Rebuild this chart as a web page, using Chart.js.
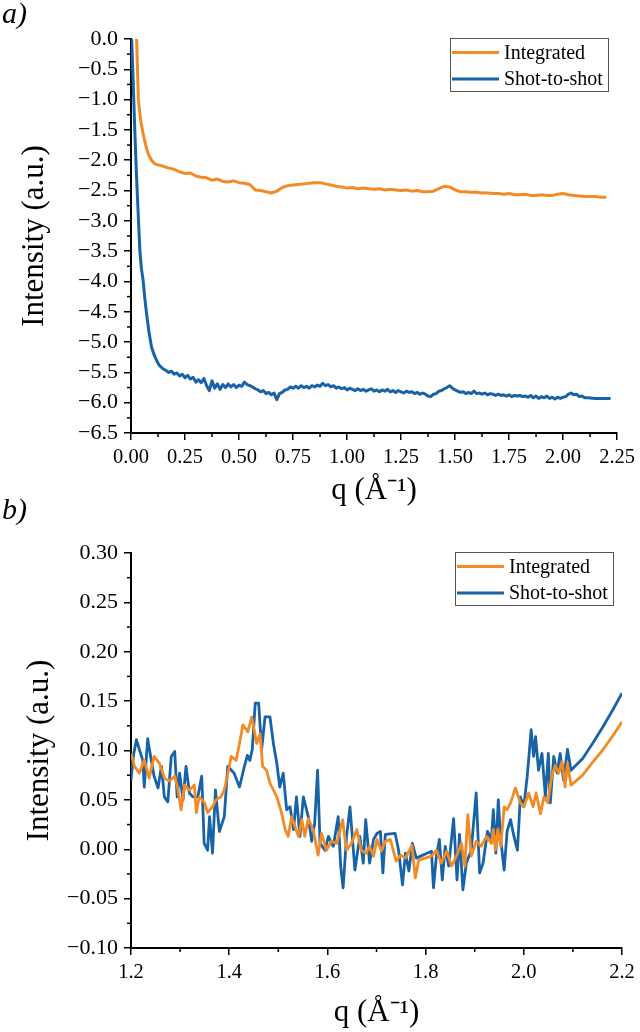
<!DOCTYPE html>
<html>
<head>
<meta charset="utf-8">
<script src="https://cdn.jsdelivr.net/npm/chart.js@4.4.1/dist/chart.umd.min.js"></script>
<style>
  body { margin: 0; background: #fff; width: 640px; height: 1032px; position: relative; overflow: hidden; }
  canvas { position: absolute; left: 0; }
  .tag { position: absolute; left: 2px; font: italic 30px 'Liberation Serif', 'Times New Roman', serif; line-height: 1; }
</style>
</head>
<body>
<canvas id="chartA" width="640" height="520" style="top:0"></canvas>
<canvas id="chartB" width="640" height="512" style="top:520px"></canvas>
<div class="tag" style="top:-2px">a)</div>
<div class="tag" style="top:494px">b)</div>
<script>
// ---- panel a) full q range ----
const qIntA = [
  0.026, 0.03, 0.034, 0.045, 0.056, 0.068, 0.079, 0.095, 0.11, 0.13,
  0.15, 0.175, 0.2, 0.225, 0.25, 0.275, 0.3, 0.325, 0.35, 0.375,
  0.4, 0.425, 0.45, 0.475, 0.5, 0.525, 0.55, 0.575, 0.6, 0.625,
  0.65, 0.675, 0.7, 0.725, 0.75, 0.775, 0.8, 0.825, 0.85, 0.875,
  0.9, 0.925, 0.95, 0.975, 1.0, 1.025, 1.05, 1.075, 1.1, 1.125,
  1.15, 1.175, 1.2, 1.225, 1.25, 1.275, 1.3, 1.325, 1.35, 1.375,
  1.4, 1.425, 1.45, 1.475, 1.5, 1.525, 1.55, 1.575, 1.6, 1.625,
  1.65, 1.675, 1.7, 1.725, 1.75, 1.775, 1.8, 1.825, 1.85, 1.875,
  1.9, 1.925, 1.95, 1.975, 2.0, 2.025, 2.05, 2.075, 2.1, 2.125,
  2.15, 2.175, 2.2
];
const intA = [
  0, -0.5, -1.0, -1.35, -1.56, -1.75, -1.89, -2.0, -2.06, -2.08,
  -2.10, -2.13, -2.15, -2.19, -2.22, -2.21, -2.26, -2.28, -2.29, -2.33,
  -2.31, -2.35, -2.36, -2.34, -2.37, -2.38, -2.40, -2.49, -2.50, -2.52,
  -2.54, -2.51, -2.45, -2.42, -2.41, -2.40, -2.39, -2.38, -2.37, -2.37,
  -2.39, -2.41, -2.43, -2.44, -2.46, -2.45, -2.47, -2.46, -2.47, -2.48,
  -2.47, -2.49, -2.48, -2.49, -2.50, -2.49, -2.51, -2.50, -2.52, -2.52,
  -2.51, -2.47, -2.43, -2.44, -2.49, -2.52, -2.52, -2.53, -2.53, -2.54,
  -2.54, -2.55, -2.55, -2.56, -2.55, -2.57, -2.57, -2.56, -2.58, -2.58,
  -2.57, -2.58, -2.58, -2.56, -2.55, -2.57, -2.58, -2.59, -2.60, -2.60,
  -2.60, -2.61, -2.61
];
const qShotA = [
  0.003, 0.01, 0.018, 0.026, 0.034, 0.041, 0.048, 0.056, 0.064, 0.072,
  0.083, 0.095, 0.106, 0.118, 0.13, 0.148,
  0.1625, 0.175, 0.1875, 0.2, 0.2125, 0.225, 0.2375, 0.25, 0.2625, 0.275,
  0.2875, 0.3, 0.3125, 0.325, 0.3375, 0.35, 0.3625, 0.375, 0.3875, 0.4,
  0.4125, 0.425, 0.4375, 0.45, 0.4625, 0.475, 0.4875, 0.5, 0.5125, 0.525,
  0.5375, 0.55, 0.5625, 0.575, 0.5875, 0.6, 0.6125, 0.625, 0.6375, 0.65,
  0.6625, 0.675, 0.6875, 0.7, 0.7125, 0.725, 0.7375, 0.75, 0.7625, 0.775,
  0.7875, 0.8, 0.8125, 0.825, 0.8375, 0.85, 0.8625, 0.875, 0.8875, 0.9,
  0.9125, 0.925, 0.9375, 0.95, 0.9625, 0.975, 0.9875, 1.0, 1.0125, 1.025,
  1.0375, 1.05, 1.0625, 1.075, 1.0875, 1.1, 1.1125, 1.125, 1.1375, 1.15,
  1.1625, 1.175, 1.1875, 1.2, 1.2125, 1.225, 1.2375, 1.25, 1.2625, 1.275,
  1.2875, 1.3, 1.3125, 1.325, 1.3375, 1.35, 1.3625, 1.375, 1.3875, 1.4,
  1.4125, 1.425, 1.4375, 1.45, 1.4625, 1.475, 1.4875, 1.5, 1.5125, 1.525,
  1.5375, 1.55, 1.5625, 1.575, 1.5875, 1.6, 1.6125, 1.625, 1.6375, 1.65,
  1.6625, 1.675, 1.6875, 1.7, 1.7125, 1.725, 1.7375, 1.75, 1.7625, 1.775,
  1.7875, 1.8, 1.8125, 1.825, 1.8375, 1.85, 1.8625, 1.875, 1.8875, 1.9,
  1.9125, 1.925, 1.9375, 1.95, 1.9625, 1.975, 1.9875, 2.0, 2.0125, 2.025,
  2.0375, 2.05, 2.0625, 2.075, 2.0875, 2.1, 2.1125, 2.15, 2.22
];
const shotA = [
  0, -0.7, -1.56, -2.3, -2.94, -3.49, -3.78, -3.98, -4.28, -4.53,
  -4.83, -5.08, -5.2, -5.30, -5.38, -5.44,
  -5.47, -5.50, -5.48, -5.53, -5.51, -5.56, -5.53, -5.59, -5.55, -5.61,
  -5.58, -5.66, -5.62, -5.67, -5.60, -5.72, -5.80, -5.64, -5.76, -5.69,
  -5.78, -5.70, -5.75, -5.69, -5.74, -5.70, -5.75, -5.71, -5.73, -5.66,
  -5.70, -5.72, -5.74, -5.77, -5.79, -5.82, -5.80, -5.85, -5.83, -5.87,
  -5.84, -5.95, -5.85, -5.83, -5.79, -5.78, -5.74, -5.76, -5.73, -5.76,
  -5.72, -5.75, -5.73, -5.76, -5.72, -5.74, -5.71, -5.73, -5.68, -5.72,
  -5.70, -5.74, -5.72, -5.76, -5.74, -5.77, -5.75, -5.79, -5.76, -5.78,
  -5.80, -5.77, -5.80, -5.78, -5.81, -5.79, -5.77, -5.81, -5.79, -5.82,
  -5.79, -5.81, -5.78, -5.82, -5.80, -5.83, -5.80, -5.82, -5.84, -5.81,
  -5.83, -5.82, -5.85, -5.83, -5.86, -5.84, -5.86, -5.89, -5.90, -5.86,
  -5.85, -5.81, -5.80, -5.77, -5.75, -5.72, -5.76, -5.79, -5.81, -5.83,
  -5.82, -5.85, -5.83, -5.85, -5.81, -5.85, -5.84, -5.86, -5.84, -5.87,
  -5.85, -5.86, -5.88, -5.86, -5.88, -5.87, -5.89, -5.87, -5.90, -5.88,
  -5.89, -5.88, -5.90, -5.89, -5.91, -5.88, -5.92, -5.89, -5.93, -5.90,
  -5.92, -5.89, -5.93, -5.91, -5.94, -5.91, -5.93, -5.91, -5.90, -5.86,
  -5.84, -5.87, -5.86, -5.90, -5.89, -5.92, -5.92, -5.93, -5.93
];

// ---- panel b) zoom 1.2 - 2.2 ----
const qIntB = [
  1.2, 1.207, 1.217, 1.227, 1.237, 1.247, 1.258, 1.268, 1.278, 1.289,
  1.295, 1.302, 1.309, 1.319, 1.329, 1.333, 1.339, 1.35, 1.356, 1.366,
  1.373, 1.383, 1.39, 1.397, 1.404, 1.414, 1.421, 1.428, 1.438, 1.446,
  1.456, 1.463, 1.468, 1.476, 1.483, 1.49, 1.497, 1.507, 1.514, 1.52,
  1.527, 1.534, 1.541, 1.548, 1.554, 1.561, 1.571, 1.581, 1.588, 1.598,
  1.608, 1.619, 1.631, 1.639, 1.649, 1.66, 1.669, 1.679, 1.686, 1.694,
  1.701, 1.71, 1.718, 1.728, 1.74, 1.749, 1.759, 1.772, 1.779, 1.786,
  1.812, 1.822, 1.832, 1.843, 1.853, 1.863, 1.873, 1.88, 1.886, 1.893,
  1.903, 1.913, 1.924, 1.934, 1.938, 1.942, 1.947, 1.953, 1.96, 1.966,
  1.973, 1.983, 1.993, 2.0, 2.01, 2.019, 2.025, 2.034, 2.041, 2.049,
  2.057, 2.064, 2.071, 2.078, 2.084, 2.089, 2.096, 2.12, 2.14, 2.16,
  2.18, 2.2
];
const intB = [
  0.097, 0.084, 0.077, 0.090, 0.072, 0.094, 0.087, 0.072, 0.069, 0.074,
  0.062, 0.040, 0.065, 0.060, 0.065, 0.037, 0.053, 0.047, 0.037, 0.043,
  0.050, 0.053, 0.060, 0.076, 0.094, 0.090, 0.107, 0.126, 0.119, 0.134,
  0.107, 0.117, 0.084, 0.080, 0.067, 0.060, 0.053, 0.036, 0.020, 0.013,
  0.033, 0.023, 0.013, 0.030, 0.013, 0.031, 0.020, -0.006, 0.016, -0.001,
  0.008, 0.006, 0.030, -0.001, 0.006, 0.020, -0.001, -0.004, 0.003, -0.007,
  0.010, -0.002, 0.008, 0.010, -0.012, -0.006, -0.009, 0.004, -0.029, -0.011,
  -0.007, -0.001, -0.014, -0.002, -0.017, -0.007, 0.006, -0.017, 0.035, -0.007,
  0.008, 0.003, 0.013, 0.006, 0.020, -0.001, 0.020, 0.003, 0.043, 0.040,
  0.047, 0.062, 0.047, 0.043, 0.057, 0.043, 0.057, 0.036, 0.053, 0.047,
  0.074, 0.085, 0.077, 0.089, 0.063, 0.087, 0.065, 0.075, 0.088, 0.100,
  0.114, 0.129
];
const qShotB = [
  1.2, 1.205, 1.211, 1.217, 1.224, 1.227, 1.234, 1.24, 1.247, 1.255,
  1.262, 1.268, 1.275, 1.282, 1.289, 1.294, 1.299, 1.306, 1.312, 1.319,
  1.326, 1.336, 1.344, 1.349, 1.356, 1.36, 1.366, 1.372, 1.38, 1.39,
  1.397, 1.41, 1.421, 1.431, 1.437, 1.442, 1.447, 1.453, 1.46, 1.466,
  1.473, 1.483, 1.49, 1.497, 1.503, 1.51, 1.517, 1.524, 1.531, 1.537,
  1.544, 1.551, 1.561, 1.568, 1.574, 1.58, 1.585, 1.595, 1.602, 1.612,
  1.622, 1.627, 1.632, 1.639, 1.646, 1.656, 1.666, 1.673, 1.678, 1.686,
  1.694, 1.701, 1.708, 1.713, 1.718, 1.738, 1.745, 1.753, 1.759, 1.766,
  1.773, 1.781, 1.812, 1.816, 1.822, 1.828, 1.834, 1.84, 1.847, 1.857,
  1.864, 1.869, 1.876, 1.883, 1.893, 1.903, 1.91, 1.917, 1.926, 1.934,
  1.938, 1.943, 1.948, 1.953, 1.96, 1.966, 1.973, 1.98, 1.987, 1.993,
  2.0, 2.007, 2.015, 2.02, 2.024, 2.03, 2.037, 2.044, 2.05, 2.054,
  2.061, 2.068, 2.074, 2.081, 2.089, 2.096, 2.12, 2.14, 2.16, 2.18,
  2.2
];
const shotB = [
  0.070, 0.095, 0.111, 0.101, 0.090, 0.063, 0.112, 0.094, 0.074, 0.062,
  0.084, 0.053, 0.048, 0.094, 0.099, 0.053, 0.077, 0.050, 0.084, 0.057,
  0.053, 0.053, 0.074, 0.006, -0.001, 0.033, -0.004, 0.060, 0.018, 0.033,
  0.084, 0.077, 0.063, 0.084, 0.095, 0.090, 0.101, 0.148, 0.148, 0.101,
  0.134, 0.134, 0.107, 0.087, 0.063, 0.077, 0.040, 0.043, 0.020, 0.053,
  0.013, 0.053, 0.033, 0.008, 0.026, 0.080, 0.006, -0.001, 0.013, 0.003,
  0.033, -0.017, -0.039, 0.013, 0.043, -0.021, 0.013, -0.014, 0.030, -0.014,
  0.010, 0.016, 0.018, -0.024, 0.015, 0.016, -0.001, -0.036, -0.004, -0.022,
  0.006, -0.009, -0.002, -0.039, -0.007, 0.010, -0.031, 0.003, -0.017, 0.031,
  -0.031, 0.015, -0.041, -0.014, -0.001, 0.057, -0.024, -0.014, 0.018, 0.010,
  0.040, -0.004, 0.050, 0.010, -0.021, 0.018, 0.030, 0.013, -0.001, 0.053,
  0.043, 0.074, 0.121, 0.094, 0.114, 0.080, 0.097, 0.053, 0.097, 0.047,
  0.094, 0.077, 0.097, 0.070, 0.101, 0.080, 0.092, 0.107, 0.123, 0.140,
  0.158
];

const seriesNames = ['Integrated', 'Shot-to-shot'];
const seriesColors = ['#f28b26', '#1862a6'];
const SERIF = "'Liberation Serif', 'Times New Roman', serif";

function fmt(v, d) {
  if (Math.abs(v) < 1e-9) v = 0;
  return v.toFixed(d).replace('-', '\u2212');
}

function pts(xs, ys) {
  return xs.map((x, i) => ({ x: x, y: ys[i] }));
}

// small ticks between the labelled ones
const minorTicks = {
  id: 'minorTicks',
  afterDraw(chart, args, opts) {
    const ctx = chart.ctx;
    const { left, bottom } = chart.chartArea;
    ctx.save();
    ctx.strokeStyle = '#000';
    ctx.lineWidth = 1.5;
    ['x', 'y'].forEach(id => {
      const s = chart.scales[id];
      const step = opts[id];
      const n = Math.round((s.max - s.min) / step);
      for (let k = 1; k < n; k += 2) {
        const p = s.getPixelForValue(s.min + k * step);
        ctx.beginPath();
        if (id === 'x') { ctx.moveTo(p, bottom); ctx.lineTo(p, bottom + 4); }
        else { ctx.moveTo(left, p); ctx.lineTo(left - 4, p); }
        ctx.stroke();
      }
    });
    ctx.restore();
  }
};

// framed legend in the top right corner of the plot
const boxLegend = {
  id: 'boxLegend',
  afterDraw(chart) {
    const ctx = chart.ctx;
    const a = chart.chartArea;
    const w = 158, h = 53;
    const x0 = Math.round(a.right - 9 - w), y0 = Math.round(a.top - 1);
    ctx.save();
    ctx.fillStyle = '#fff';
    ctx.fillRect(x0, y0, w, h);
    ctx.strokeStyle = '#555';
    ctx.lineWidth = 1;
    ctx.strokeRect(x0 + 0.5, y0 + 0.5, w, h);
    ctx.font = '20px ' + SERIF;
    ctx.textBaseline = 'middle';
    chart.data.datasets.forEach((ds, i) => {
      const y = y0 + 14.5 + i * 26.5;
      ctx.strokeStyle = ds.borderColor;
      ctx.lineWidth = 3;
      ctx.beginPath();
      ctx.moveTo(x0 + 2, y);
      ctx.lineTo(x0 + 49, y);
      ctx.stroke();
      ctx.fillStyle = '#000';
      ctx.fillText(ds.label, x0 + 54, y + 1);
    });
    ctx.restore();
  }
};

function makeChart(id, sets, o) {
  return new Chart(document.getElementById(id), {
    type: 'line',
    data: {
      datasets: sets.map((d, i) => ({
        label: seriesNames[i],
        data: d,
        borderColor: seriesColors[i],
        backgroundColor: seriesColors[i],
        borderWidth: o.lineW,
        borderJoinStyle: 'round',
        pointRadius: 0,
        tension: 0,
        fill: false
      }))
    },
    options: {
      responsive: false,
      animation: false,
      devicePixelRatio: 1,
      layout: { padding: { top: o.padTop, right: 18, left: 0, bottom: 0 } },
      plugins: {
        legend: { display: false },
        tooltip: { enabled: false },
        minorTicks: { x: o.xStep / 2, y: o.yStep / 2 }
      },
      scales: {
        x: {
          type: 'linear',
          min: o.xMin, max: o.xMax,
          ticks: { stepSize: o.xStep, callback: v => fmt(v, o.xDec), color: '#000', font: { family: SERIF, size: 20.5 }, padding: 5, maxRotation: 0, autoSkip: false },
          grid: { drawOnChartArea: false, tickLength: 7, color: '#000', lineWidth: 1.5 },
          border: { color: '#000', width: 2 },
          title: { display: true, text: 'q (\u00c5\u207b\u00b9)', color: '#000', font: { family: SERIF, size: 31, lineHeight: 1 }, padding: { top: 0, bottom: o.xTitlePad } },
          afterFit: s => { s.height = o.xHeight; }
        },
        y: {
          min: o.yMin, max: o.yMax,
          ticks: { stepSize: o.yStep, callback: v => fmt(v, o.yDec), color: '#000', font: { family: SERIF, size: 22 }, padding: 6, autoSkip: false },
          grid: { drawOnChartArea: false, tickLength: 7, color: '#000', lineWidth: 1.5 },
          border: { color: '#000', width: 2 },
          title: { display: true, text: 'Intensity (a.u.)', color: '#000', font: { family: SERIF, size: 31, lineHeight: 1 }, padding: { top: o.yTitlePad, bottom: 0 } },
          afterFit: s => { s.width = 131; }
        }
      }
    },
    plugins: [minorTicks, boxLegend]
  });
}

makeChart('chartA', [pts(qIntA, intA), pts(qShotA, shotA)], {
  padTop: 39, xHeight: 87, xTitlePad: 13.5, yTitlePad: 19, lineW: 3,
  xMin: 0, xMax: 2.25, xStep: 0.25, xDec: 2,
  yMin: -6.5, yMax: 0, yStep: 0.5, yDec: 1
});

makeChart('chartB', [pts(qIntB, intB), pts(qShotB, shotB)], {
  padTop: 33, xHeight: 84, xTitlePad: 4, yTitlePad: 24, lineW: 2.8,
  xMin: 1.2, xMax: 2.2, xStep: 0.2, xDec: 1,
  yMin: -0.1, yMax: 0.3, yStep: 0.05, yDec: 2
});
</script>
</body>
</html>
